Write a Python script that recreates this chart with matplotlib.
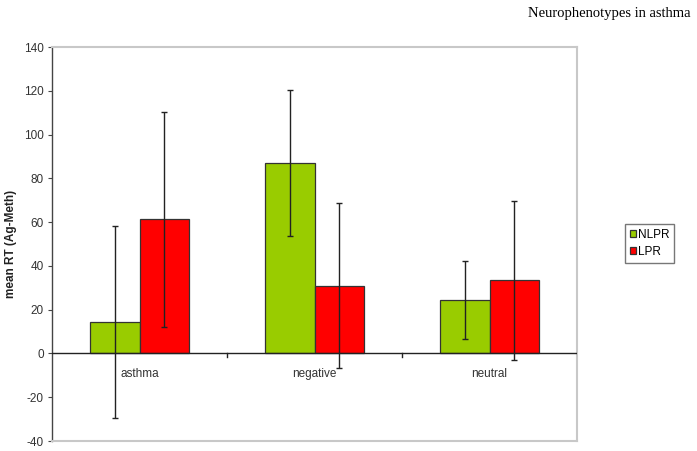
import numpy as np
import matplotlib.pyplot as plt

categories = ["asthma", "negative", "neutral"]
nlpr = [14.2, 87.0, 24.4]
nlpr_err = [43.8, 33.4, 17.8]
lpr = [61.2, 31.0, 33.4]
lpr_err = [49.0, 37.8, 36.2]
yticks = [-40, -20, 0, 20, 40, 60, 80, 100, 120, 140]


def plot_chart():
    plt.rcParams['font.family'] = ['Liberation Sans', 'DejaVu Sans']
    plt.rcParams['axes.unicode_minus'] = False
    fig = plt.figure(figsize=(6.97, 4.51), dpi=100)
    ax = fig.add_axes([52 / 697, 10 / 451, 525 / 697, 394 / 451])

    x = np.arange(len(categories))
    w = 0.285
    err_kw = dict(ecolor='#222222', elinewidth=1.0, capsize=2.5, capthick=1.0)
    ax.bar(x - w / 2, nlpr, w, color='#99cc00', edgecolor='#333333', linewidth=0.9,
           yerr=nlpr_err, error_kw=err_kw, label='NLPR', zorder=2)
    ax.bar(x + w / 2, lpr, w, color='#ff0000', edgecolor='#333333', linewidth=0.9,
           yerr=lpr_err, error_kw=err_kw, label='LPR', zorder=2)

    ax.set_xlim(-0.5, len(categories) - 0.5)
    ax.set_ylim(-40, 140)
    ax.set_yticks(yticks)
    ax.tick_params(axis='y', labelsize=8.5, direction='out', length=3, color='#444444',
                   labelcolor='#333333', pad=3)

    # category axis drawn at y = 0
    ax.axhline(0, color='#222222', linewidth=1.0, zorder=3)
    ax.set_xticks([])
    for b in np.arange(0.5, len(categories) - 0.5, 1.0):
        ax.plot([b, b], [0, -1.5], color='#222222', linewidth=1.0, zorder=3)
    for xi, name in zip(x, categories):
        ax.text(xi, -6.5, name, ha='center', va='top', fontsize=8.5, color='#333333')

    for side in ['top', 'right', 'bottom']:
        ax.spines[side].set_color('#c8c8c8')
        ax.spines[side].set_linewidth(1.5)
    ax.spines['left'].set_color('#444444')
    ax.spines['left'].set_linewidth(1.0)

    ax.set_ylabel('mean RT (Ag-Meth)', fontsize=8.5, fontweight='bold', labelpad=5,
                  color='#222222')

    leg = ax.legend(loc='upper left', bbox_to_anchor=(625 / 697, 227 / 451),
                    bbox_transform=fig.transFigure, fontsize=8.5, frameon=True,
                    fancybox=False, edgecolor='#555555', handlelength=0.55,
                    handleheight=0.55, handletextpad=0.15, borderpad=0.4,
                    labelspacing=0.45, borderaxespad=0)
    leg.get_frame().set_linewidth(1.0)

    fig.text(690 / 697, 1 - 14 / 451, 'Neurophenotypes in asthma', ha='right', va='center',
             fontsize=10.5, family='Liberation Serif')

    fig.savefig('out.png', dpi=100)


if __name__ == "__main__":
    plot_chart()
